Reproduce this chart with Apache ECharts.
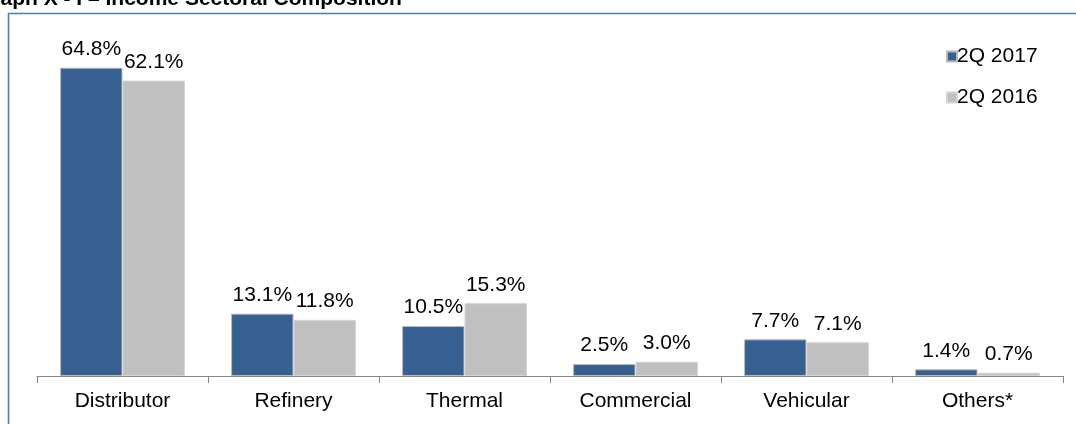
<!DOCTYPE html>
<html>
<head>
<meta charset="utf-8">
<script src="https://cdn.jsdelivr.net/npm/echarts@6/dist/echarts.min.js"></script>
<style>
html,body{margin:0;padding:0;background:#fff;}
#chart{width:1076px;height:424px;}
</style>
</head>
<body>
<div id="chart"></div>
<script>
var categories = ['Distributor', 'Refinery', 'Thermal', 'Commercial', 'Vehicular', 'Others*'];
var series2017 = [64.8, 13.1, 10.5, 2.5, 7.7, 1.4];
var series2016 = [62.1, 11.8, 15.3, 3.0, 7.1, 0.7];
var seriesNames = ['2Q 2017', '2Q 2016'];
var titleText = 'Graph X - I \u2013 Income Sectoral Composition';

var chart = echarts.init(document.getElementById('chart'), null, {renderer: 'canvas'});
var font = 'Liberation Sans, Arial, sans-serif';
var labelCfg = {
  show: true, position: 'top', distance: 8,
  formatter: function (p) { return p.value.toFixed(1) + '%'; },
  fontFamily: font, fontSize: 21, color: '#000'
};
chart.setOption({
  animation: false,
  textStyle: {fontFamily: font},
  graphic: [
    {type: 'rect', shape: {x: 8.5, y: 13.5, width: 1200, height: 600},
     style: {fill: 'none', stroke: '#4A7EBB', lineWidth: 1.6}, silent: true, z: 0},
    {type: 'text', x: -24, y: 10,
     style: {text: titleText, font: 'bold 21px Liberation Sans, Arial, sans-serif', fill: '#000', verticalAlign: 'bottom'}}
  ],
  grid: {left: 37, right: 13, top: 43, bottom: 48},
  legend: {
    orient: 'vertical', left: 946, top: 46, itemWidth: 10, itemHeight: 10, itemGap: 20,
    padding: 0, icon: 'rect',
    textStyle: {fontFamily: font, fontSize: 21, color: '#000', padding: [0, 0, 0, -5]},
    data: seriesNames
  },
  xAxis: {
    type: 'category', data: categories,
    axisLine: {show: true, lineStyle: {color: '#868686', width: 1}},
    axisTick: {show: true, inside: false, length: 7, lineStyle: {color: '#868686'}},
    axisLabel: {fontFamily: font, fontSize: 21, color: '#000', margin: 15}
  },
  yAxis: {type: 'value', min: 0, max: 70, show: false, splitLine: {show: false}},
  series: [
    {name: seriesNames[0], type: 'bar', data: series2017, barGap: '0%', barCategoryGap: '27%',
     itemStyle: {color: '#376092', borderColor: '#b8b8b8', borderWidth: 1}, label: labelCfg},
    {name: seriesNames[1], type: 'bar', data: series2016,
     itemStyle: {color: '#C0C0C0', borderColor: '#d4d4d4', borderWidth: 1}, label: labelCfg}
  ]
});
</script>
</body>
</html>
